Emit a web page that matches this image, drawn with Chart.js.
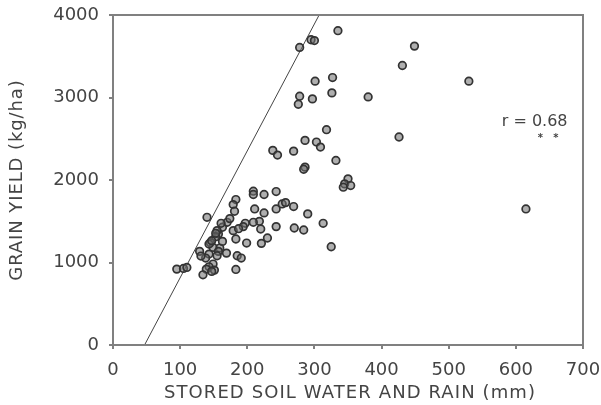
<!DOCTYPE html>
<html>
<head>
<meta charset="utf-8">
<script src="https://cdn.jsdelivr.net/npm/chart.js@4/dist/chart.umd.min.js"></script>
<style>
  html, body { margin: 0; padding: 0; background: #fff; }
  #wrap { width: 601px; height: 405px; }
</style>
</head>
<body>
<div id="wrap"><canvas id="chart" width="601" height="405"></canvas></div>
<script>
// --- data ---
const waterMm = [335, 295, 300, 278, 449, 431, 530, 301, 327, 326, 278, 276, 297, 380, 318, 426, 286, 303, 309,
  238, 245, 269, 332, 286, 284, 350, 345, 343, 354, 615, 243, 209, 209, 225, 183, 179, 181, 211, 225, 243,
  252, 257, 269, 290, 313, 325, 284, 270, 243, 220, 218, 209, 197, 194, 230, 221, 199, 183, 185, 191, 183,
  169, 159, 163, 157, 163, 170, 174, 161, 155, 153, 140, 145, 149, 157, 155, 143, 138, 149, 143, 151, 139,
  147, 134, 129, 131, 95, 105, 110, 143, 147, 153, 179, 187];
const yieldKg = [3810, 3700, 3690, 3607, 3623, 3388, 3198, 3198, 3242, 3056, 3015, 2918, 2983, 3007, 2610, 2521, 2480, 2460, 2399,
  2359, 2302, 2350, 2237, 2156, 2130, 2014, 1953, 1913, 1933, 1649, 1860, 1864, 1824, 1824, 1763, 1702, 1621, 1649, 1601, 1649,
  1710, 1726, 1678, 1589, 1475, 1191, 1394, 1418, 1435, 1406, 1499, 1487, 1475, 1435, 1297, 1232, 1236, 1285, 1082, 1054, 916,
  1114, 1175, 1256, 1345, 1427, 1487, 1532, 1475, 1386, 1313, 1548, 1240, 1183, 1135, 1082, 1102, 1054, 981, 948, 908, 920,
  892, 851, 1135, 1078, 920, 928, 940, 1224, 1264, 1354, 1386, 1410];

// boundary line
const lineX = [47, 307];
const lineY = [0, 4000];

const xTicks = [0, 100, 200, 300, 400, 500, 600, 700];
const yTicks = [0, 1000, 2000, 3000, 4000];

const xTitle = 'STORED SOIL WATER AND RAIN (mm)';
const yTitle = 'GRAIN YIELD (kg/ha)';
const noteText = 'r = 0.68';
const noteAt = [628, 2710];
const starText = '*   *';
const starAt = [648, 2510];

const grey = '#444';
const axisGrey = '#808080';
const fontFam = '"DejaVu Sans", Arial, sans-serif';

// frame round the plot, axis titles (letter-spaced) and r annotation
const framePlugin = {
  id: 'frame',
  afterDraw(chart) {
    const { ctx, chartArea: a, scales } = chart;
    ctx.save();
    ctx.strokeStyle = axisGrey;
    ctx.lineWidth = 2;
    ctx.strokeRect(a.left, a.top, a.right - a.left, a.bottom - a.top);

    ctx.fillStyle = grey;
    ctx.textAlign = 'center';
    ctx.textBaseline = 'middle';
    ctx.font = '18px ' + fontFam;
    ctx.letterSpacing = '1.1px';
    ctx.fillText(xTitle, (a.left + a.right) / 2 + 2, 393);
    ctx.save();
    ctx.translate(17, (a.top + a.bottom) / 2);
    ctx.rotate(-Math.PI / 2);
    ctx.letterSpacing = '0.9px';
    ctx.fillText(yTitle, 0, 0);
    ctx.restore();

    ctx.letterSpacing = '0px';
    ctx.font = '16px ' + fontFam;
    ctx.fillText(noteText, scales.x.getPixelForValue(noteAt[0]), scales.y.getPixelForValue(noteAt[1]));
    ctx.font = 'bold 10px ' + fontFam;
    ctx.fillText(starText, scales.x.getPixelForValue(starAt[0]), scales.y.getPixelForValue(starAt[1]));
    ctx.restore();
  }
};

new Chart(document.getElementById('chart'), {
  type: 'scatter',
  data: {
    datasets: [
      {
        data: waterMm.map((x, i) => ({ x, y: yieldKg[i] })),
        pointRadius: 3.8,
        pointBackgroundColor: 'rgba(110,110,110,0.55)',
        pointBorderColor: '#333',
        pointBorderWidth: 1.7
      },
      {
        type: 'line',
        data: lineX.map((x, i) => ({ x, y: lineY[i] })),
        borderColor: '#444',
        borderWidth: 1,
        pointRadius: 0,
        fill: false
      }
    ]
  },
  options: {
    responsive: false,
    animation: false,
    layout: { padding: { top: 15, right: 18, left: 0, bottom: 0 } },
    plugins: { legend: { display: false }, tooltip: { enabled: false } },
    scales: {
      x: {
        type: 'linear',
        min: 0, max: 700,
        afterBuildTicks: axis => { axis.ticks = xTicks.map(v => ({ value: v })); },
        afterFit: axis => { axis.height = 60; axis.paddingLeft = 0; axis.paddingRight = 0; },
        grid: { display: true, drawOnChartArea: false, tickLength: 4, color: axisGrey, lineWidth: 2 },
        border: { color: axisGrey, width: 2 },
        ticks: { color: grey, font: { size: 18, family: fontFam }, padding: 11, maxRotation: 0,
          callback: v => String(v) },
        title: { display: false }
      },
      y: {
        type: 'linear',
        min: 0, max: 4000,
        afterBuildTicks: axis => { axis.ticks = yTicks.map(v => ({ value: v })); },
        afterFit: axis => { axis.width = 113; axis.paddingTop = 0; axis.paddingBottom = 0; },
        grid: { display: true, drawOnChartArea: false, tickLength: 4, color: axisGrey, lineWidth: 2 },
        border: { color: axisGrey, width: 2 },
        ticks: { color: grey, font: { size: 18, family: fontFam }, padding: 10,
          callback: v => String(v) },
        title: { display: false }
      }
    }
  },
  plugins: [framePlugin]
});
</script>
</body>
</html>
